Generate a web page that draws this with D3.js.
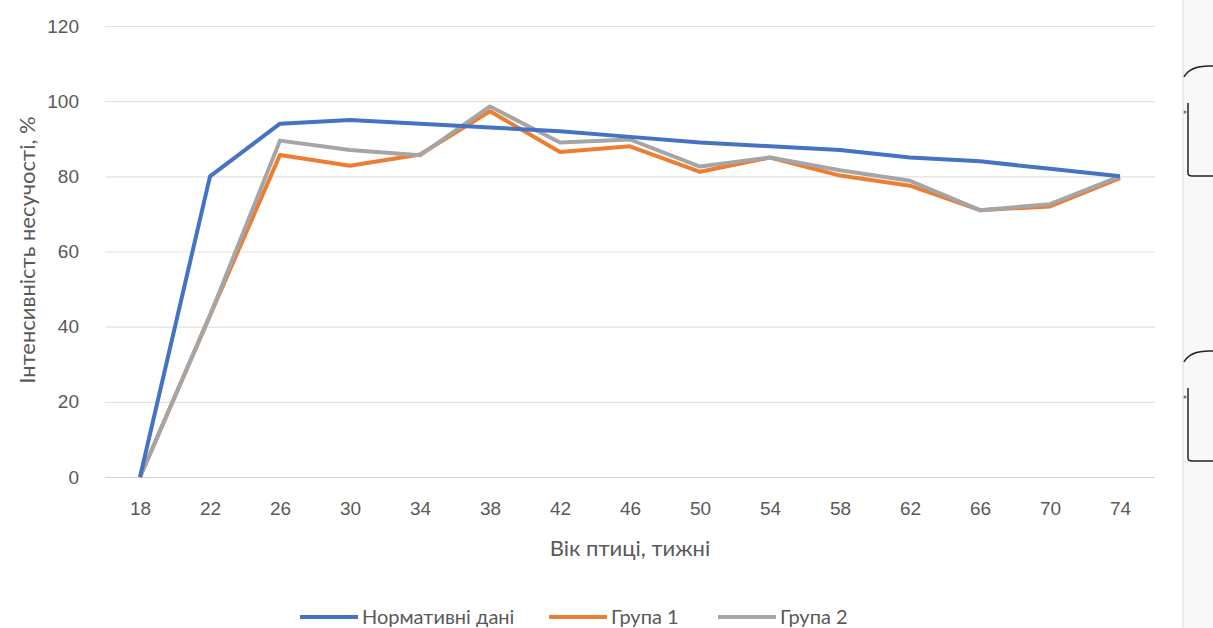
<!DOCTYPE html>
<html>
<head>
<meta charset="utf-8">
<script src="https://cdn.jsdelivr.net/npm/d3@7"></script>
<style>
  body { margin:0; background:#fff; }
  svg { display:block; font-family:Lato, "Open Sans", sans-serif; }
</style>
</head>
<body>
<div id="chart"></div>
<script>
// weeks of age
var weeks = [18, 22, 26, 30, 34, 38, 42, 46, 50, 54, 58, 62, 66, 70, 74]
var normData = [0, 80, 94, 95, 94, 93, 92, 90.5, 89, 88, 87, 85, 84, 82, 80]
var group1 = [0, 43, 85.7, 82.8, 85.8, 97.3, 86.5, 88, 81.2, 85, 80.2, 77.5, 71, 72, 79.5]
var group2 = [0, 43, 89.5, 87, 85.6, 98.6, 89, 89.8, 82.6, 85, 81.6, 78.8, 71, 72.6, 80]
var yTicks = [0, 20, 40, 60, 80, 100, 120]
var seriesNames = ['Нормативні дані', 'Група 1', 'Група 2']
var seriesColors = ['#4472C4', '#ED7D31', '#A5A5A5']

var W = 1213, H = 628
var m = { top:26, right:58, bottom:151, left:105 }

var svg = d3.select('#chart').append('svg')
    .attr('width', W)
    .attr('height', H)

var x = d3.scalePoint()
    .domain(weeks)
    .range([m.left, W - m.right])
    .padding(0.5)

var y = d3.scaleLinear()
    .domain([0, 120])
    .range([H - m.bottom, m.top])

// horizontal gridlines
svg.append('g')
    .attr('transform', 'translate(' + m.left + ',0)')
    .call(d3.axisLeft(y).tickValues(yTicks).tickSize(-(W - m.right - m.left)).tickFormat(''))
    .call(g => g.select('.domain').remove())
    .selectAll('line')
      .attr('stroke', d => d === 0 ? '#d0d0d0' : '#e2e2e2')
      .attr('stroke-width', 1.2)

// y tick labels
svg.append('g')
    .attr('transform', 'translate(' + (m.left - 23) + ',0)')
    .call(d3.axisLeft(y).tickValues(yTicks).tickSize(0))
    .call(g => g.select('.domain').remove())
    .selectAll('text')
      .attr('fill', '#595959')
      .style('font-size', '19px')

// x tick labels
svg.append('g')
    .attr('transform', 'translate(0,' + (H - m.bottom + 21) + ')')
    .call(d3.axisBottom(x).tickSize(0))
    .call(g => g.select('.domain').remove())
    .selectAll('text')
      .attr('fill', '#595959')
      .style('font-size', '19px')

// axis titles
svg.append('text')
    .attr('x', 630)
    .attr('y', 556)
    .attr('text-anchor', 'middle')
    .attr('fill', '#595959')
    .style('font-size', '22px')
    .text('Вік птиці, тижні')

svg.append('text')
    .attr('transform', 'translate(35,' + 250 + ') rotate(-90)')
    .attr('text-anchor', 'middle')
    .attr('fill', '#595959')
    .style('font-size', '22px')
    .text('Інтенсивність несучості, %')

// lines
var line = d3.line()
    .x((d, i) => x(weeks[i]))
    .y(d => y(d))

var allSeries = [normData, group1, group2]
// grey above orange, blue on top
var order = [1, 2, 0]
order.forEach(function(k) {
    svg.append('path')
        .datum(allSeries[k])
        .attr('fill', 'none')
        .attr('stroke', seriesColors[k])
        .attr('stroke-width', 4)
        .attr('stroke-linejoin', 'round')
        .attr('d', line)
})

// legend
var legendX = [300, 549, 718]
var lg = svg.append('g')
seriesNames.forEach(function(name, i) {
    lg.append('line')
        .attr('x1', legendX[i]).attr('x2', legendX[i] + 58)
        .attr('y1', 617).attr('y2', 617)
        .attr('stroke', seriesColors[i])
        .attr('stroke-width', 4)
    lg.append('text')
        .attr('x', legendX[i] + 62)
        .attr('y', 624)
        .attr('fill', '#595959')
        .style('font-size', '20px')
        .text(name)
})

// page edge on the right (from the scanned document)
svg.append('rect')
    .attr('x', 1183).attr('y', 0)
    .attr('width', 30).attr('height', H)
    .attr('fill', '#f8f8f8')
svg.append('line')
    .attr('x1', 1183).attr('x2', 1183)
    .attr('y1', 0).attr('y2', H)
    .attr('stroke', '#e4e4e4')
    .attr('stroke-width', 1.5)

var brackets = [65, 350]
brackets.forEach(function(top) {
    svg.append('path')
        .attr('d', 'M1184,' + (top + 12) + ' Q1190,' + top + ' 1213,' + (top + 1))
        .attr('fill', 'none')
        .attr('stroke', '#222')
        .attr('stroke-width', 1.5)
    svg.append('path')
        .attr('d', 'M1188,' + (top + 38) + ' L1188,' + (top + 108) + ' Q1188,' + (top + 111) + ' 1192,' + (top + 111) + ' L1213,' + (top + 111))
        .attr('fill', 'none')
        .attr('stroke', '#222')
        .attr('stroke-width', 1.5)
    svg.append('circle')
        .attr('cx', 1185).attr('cy', top + 47)
        .attr('r', 1.5)
        .attr('fill', '#777')
})
</script>
</body>
</html>
